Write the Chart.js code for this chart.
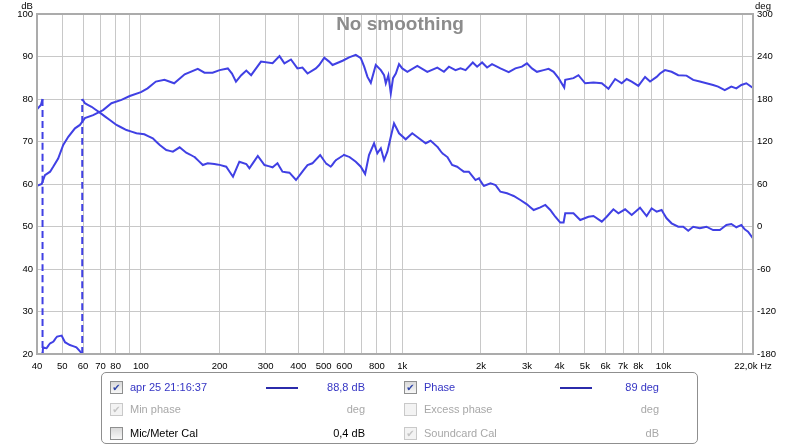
<!DOCTYPE html>
<html>
<head>
<meta charset="utf-8">
<script src="https://cdn.jsdelivr.net/npm/chart.js@4.4.1/dist/chart.umd.min.js"></script>
<style>
  html, body { margin: 0; padding: 0; background: #fff; }
  #wrap { position: relative; width: 800px; height: 446px; font-family: "Liberation Sans", Arial, sans-serif; }
  #legend { position: absolute; left: 101px; top: 372px; width: 597px; height: 72px; box-sizing: border-box;
            border: 1px solid #8f8f8f; border-radius: 5px; background: #fff; font-size: 11px; }
  .cell { position: absolute; height: 14px; line-height: 14px; white-space: nowrap; }
  .cb { position: absolute; width: 13px; height: 13px; box-sizing: border-box; border: 1px solid #8e8f8f;
        background: linear-gradient(#d9d9d9, #f7f7f7); font-family: "DejaVu Sans", sans-serif;
        font-size: 10px; line-height: 11px; text-align: center; }
  .cb.dis { border-color: #c9c9c9; background: #f3f3f3; }
  .sample { position: absolute; width: 32px; height: 2px; background: #2b2bab; }
</style>
</head>
<body>
<div id="wrap">
  <canvas id="c" width="800" height="446"></canvas>
  <div id="legend"></div>
</div>
<script>
// SPL trace (Hz, dB)
const splFreq = [40, 41.7, 42.9, 44.9, 46.2, 48.2, 50.4, 52.7, 55.9, 58.4, 61, 65.6, 71.6, 77.1, 84.2, 90.6,
  100, 106, 114, 123, 134, 147, 165, 175, 188, 200, 215, 223, 231, 242, 253, 264, 288, 319, 339, 354, 375,
  397, 415, 434, 467, 481, 503, 525, 541, 591, 626, 664, 694, 715, 736, 758, 792, 828, 852, 865, 885, 904,
  922, 945, 972, 1000, 1046, 1142, 1247, 1362, 1444, 1509, 1599, 1671, 1747, 1862, 1934, 2021, 2112, 2206,
  2375, 2555, 2710, 2871, 3001, 3136, 3277, 3475, 3631, 3795, 3965, 4168, 4205, 4522, 4725, 5012, 5393,
  5803, 6155, 6529, 6918, 7229, 7554, 8012, 8498, 8880, 9410, 9696, 10129, 10734, 11384, 12245, 12986,
  13771, 14593, 15479, 16175, 17153, 18177, 18995, 19849, 20742, 22000];
const splDb = [59.6, 60.0, 62.1, 62.9, 64.1, 66.0, 69.2, 71.1, 73.1, 73.9, 75.5, 76.2, 77.4, 79.0, 79.8, 80.7,
  81.6, 82.5, 84.1, 84.5, 83.7, 85.8, 87.1, 86.2, 86.2, 86.8, 87.2, 86.0, 84.1, 85.6, 86.7, 85.6, 88.8, 88.4,
  90.1, 88.4, 89.3, 87.2, 87.4, 86.0, 87.2, 88.0, 89.7, 88.8, 88.0, 89.0, 89.8, 90.4, 89.6, 87.6, 85.2, 83.8,
  88.0, 86.8, 85.6, 83.7, 85.6, 81.3, 84.9, 86.0, 88.2, 87.2, 86.4, 87.8, 86.4, 87.4, 86.4, 87.6, 86.8, 87.2,
  86.8, 88.6, 87.6, 88.6, 87.4, 88.2, 87.2, 86.3, 87.2, 87.6, 88.4, 87.2, 86.4, 86.8, 87.1, 86.4, 84.9, 82.7,
  84.5, 84.9, 85.6, 83.7, 83.9, 83.7, 82.4, 84.7, 83.7, 84.7, 84.1, 83.1, 85.2, 84.1, 85.2, 86.0, 86.8, 86.4,
  85.6, 85.5, 84.5, 84.1, 83.7, 83.3, 82.9, 82.1, 82.9, 82.5, 83.3, 83.7, 82.6];

// Phase trace (Hz, deg), wrapped to +/-180
const phaseFreq = [40, 41.4, 42, 42, 42.2, 43.5, 44.8, 46.2, 47.6, 49.7, 51.2, 53.4, 56.6, 59, 59.6, 59.6,
  61, 64.7, 69.6, 76, 80.6, 88, 96.1, 103, 111, 118, 125, 132.5, 140.6, 149, 160, 172.5, 180, 191, 200, 212,
  225, 238, 253, 260, 280, 297, 319, 333, 348, 370, 392, 410, 434, 453, 485, 510, 533, 557, 599, 626, 664,
  694, 721, 746, 780, 803, 828, 852, 877, 904, 930, 972, 1031, 1092, 1158, 1229, 1284, 1362, 1422, 1486,
  1552, 1622, 1720, 1798, 1907, 1963, 2051, 2176, 2274, 2375, 2518, 2670, 2832, 3001, 3184, 3376, 3528,
  3686, 3852, 4025, 4144, 4205, 4522, 4799, 5161, 5393, 5803, 6060, 6428, 6718, 7127, 7554, 8129, 8616,
  9005, 9410, 9833, 10273, 10734, 11384, 11896, 12432, 12986, 13771, 14593, 15479, 16425, 17405, 18177,
  18995, 19849, 20457, 21061, 22000];
const phaseDeg = [165.5, 171.5, 180, -180, -170.5, -172, -165, -162.6, -155.6, -154, -163.5, -167.3, -170.5,
  -178, -180, 180, 174, 169, 160.7, 150.4, 143.3, 136.2, 131.6, 130.2, 124.5, 115, 108, 105.6, 111.8, 104.2,
  98.5, 86.8, 89.2, 88.2, 87, 84.4, 70.3, 91.5, 88.2, 82.2, 99.5, 86.8, 83.6, 89.2, 77.4, 76, 65.6, 75.1,
  86.8, 89.2, 100.9, 89.2, 84.4, 93.9, 100.9, 98.5, 91.5, 84.4, 74.1, 100.9, 117.5, 103.3, 110.4, 93.9,
  105.6, 126.8, 145.7, 131.6, 123.1, 131.6, 124.5, 117.5, 121.1, 112.7, 103.3, 98.5, 86.8, 84.4, 77.4, 77.4,
  65.6, 68, 57.2, 61, 58.6, 49.1, 46.9, 43.1, 37.4, 31.3, 23.3, 27.1, 30.4, 23.3, 13.8, 5.5, 5.5, 18.6, 18.6,
  9.2, 13.8, 14.8, 6.8, 13.8, 24.3, 18.6, 24.3, 16.2, 26.6, 14.8, 25.7, 20.9, 23.3, 11.6, 4.5, -0.3, -0.3,
  -5.9, -0.3, -2.5, -0.3, -5, -5, 2.1, 3.5, -1.1, 2.1, -4, -7.3, -16.7];

// frequency grid lines and their labels ('' = grid line only)
const xTicks = [40, 50, 60, 70, 80, 90, 100, 200, 300, 400, 500, 600, 700, 800, 900,
  1000, 2000, 3000, 4000, 5000, 6000, 7000, 8000, 9000, 10000, 20000, 22000];
const xTickLabels = ['40', '50', '60', '70', '80', '', '100', '200', '300', '400', '500', '600', '', '800', '',
  '1k', '2k', '3k', '4k', '5k', '6k', '7k', '8k', '', '10k', '', '22,0k Hz'];

// legend panel rows: [label, value, state] for left and right column
const legendLeft = [
  ['apr 25 21:16:37', '88,8 dB', 'on'],
  ['Min phase', 'deg', 'dis-on'],
  ['Mic/Meter Cal', '0,4 dB', 'off'],
];
const legendRight = [
  ['Phase', '89 deg', 'on'],
  ['Excess phase', 'deg', 'dis-off'],
  ['Soundcard Cal', 'dB', 'dis-on'],
];

const FONT = '"Liberation Sans", Arial, sans-serif';
const TICK_SIZE = 9.5;
const CURVE = '#4040e4';
const GRID = '#c8c8c8';

const overlay = {
  id: 'overlay',
  afterDatasetsDraw(chart) {
    const { ctx, chartArea: a } = chart;
    ctx.save();
    ctx.strokeStyle = '#ababab';
    ctx.lineWidth = 2;
    ctx.strokeRect(a.left, a.top, a.right - a.left, a.bottom - a.top);
    ctx.restore();
  },
  afterDraw(chart) {
    const { ctx } = chart;
    ctx.save();
    ctx.fillStyle = '#000';
    ctx.font = TICK_SIZE + 'px ' + FONT;
    ctx.textAlign = 'center';
    ctx.fillText('dB', 27, 8.5);
    ctx.fillText('deg', 763, 8.5);
    ctx.fillStyle = '#8c8c8c';
    ctx.font = 'bold 19px ' + FONT;
    ctx.fillText('No smoothing', 400, 30);
    ctx.restore();
  }
};

const tickFont = { size: TICK_SIZE, family: FONT };

new Chart(document.getElementById('c'), {
  type: 'line',
  data: {
    datasets: [
      {
        label: 'SPL',
        data: splFreq.map((f, i) => ({ x: f, y: splDb[i] })),
        yAxisID: 'y',
        borderColor: CURVE,
        borderWidth: 2,
        pointRadius: 0,
        tension: 0,
      },
      {
        label: 'Phase',
        data: phaseFreq.map((f, i) => ({ x: f, y: phaseDeg[i] })),
        yAxisID: 'y2',
        borderColor: CURVE,
        borderWidth: 2,
        pointRadius: 0,
        // tiny tension keeps Chart.js off its fast path, so the vertical wrap segments keep their dash
        tension: 0.000001,
        // phase wraps are drawn dashed
        segment: {
          borderDash: c => Math.abs(c.p1.parsed.y - c.p0.parsed.y) > 300 ? [7, 4] : undefined,
        },
      },
    ],
  },
  options: {
    responsive: false,
    animation: false,
    layout: { padding: { top: 14, left: 0, right: 0, bottom: 0 } },
    plugins: { legend: { display: false }, tooltip: { enabled: false } },
    scales: {
      x: {
        type: 'logarithmic',
        min: 40,
        max: 22000,
        afterBuildTicks: s => { s.ticks = xTicks.map(v => ({ value: v })); },
        afterFit: s => { s.height = 92; },
        ticks: {
          autoSkip: false,
          maxRotation: 0,
          padding: 7,
          color: '#000',
          font: tickFont,
          callback: v => { const i = xTicks.indexOf(v); return i < 0 ? '' : xTickLabels[i]; },
        },
        grid: { color: GRID, drawTicks: false },
        border: { display: false },
      },
      y: {
        position: 'left',
        min: 20,
        max: 100,
        afterFit: s => { s.width = 37; },
        ticks: { stepSize: 10, padding: 4, color: '#000', font: tickFont },
        grid: { color: GRID, drawTicks: false },
        border: { display: false },
      },
      y2: {
        position: 'right',
        min: -180,
        max: 300,
        afterFit: s => { s.width = 47; },
        ticks: { stepSize: 60, padding: 4, color: '#000', font: tickFont },
        grid: { drawOnChartArea: false, drawTicks: false },
        border: { display: false },
      },
    },
  },
  plugins: [overlay],
});

// legend panel
const legend = document.getElementById('legend');
const rowY = [14, 36, 60];
const cols = [
  { rows: legendLeft, cb: 8, text: 28, line: 164, valRight: 263 },
  { rows: legendRight, cb: 302, text: 322, line: 458, valRight: 557 },
];
function add(cls, css, text) {
  const el = document.createElement('div');
  el.className = cls;
  el.style.cssText = css;
  if (text) el.textContent = text;
  legend.appendChild(el);
  return el;
}
cols.forEach(col => {
  col.rows.forEach(([label, value, state], r) => {
    const y = rowY[r];
    const color = state === 'on' ? '#3535c4' : state === 'off' ? '#000' : '#a8a8a8';
    const dis = state.startsWith('dis');
    const checked = state === 'on' || state === 'dis-on';
    add('cb' + (dis ? ' dis' : ''), `left:${col.cb}px;top:${y - 6}px;color:${dis ? '#c4c4c4' : '#2f45a8'}`,
      checked ? '\u2714' : '');
    add('cell', `left:${col.text}px;top:${y - 7}px;color:${color}`, label);
    add('cell', `left:0;width:${col.valRight}px;text-align:right;top:${y - 7}px;color:${color}`, value);
    if (r === 0) add('sample', `left:${col.line}px;top:${y}px`);
  });
});
</script>
</body>
</html>
